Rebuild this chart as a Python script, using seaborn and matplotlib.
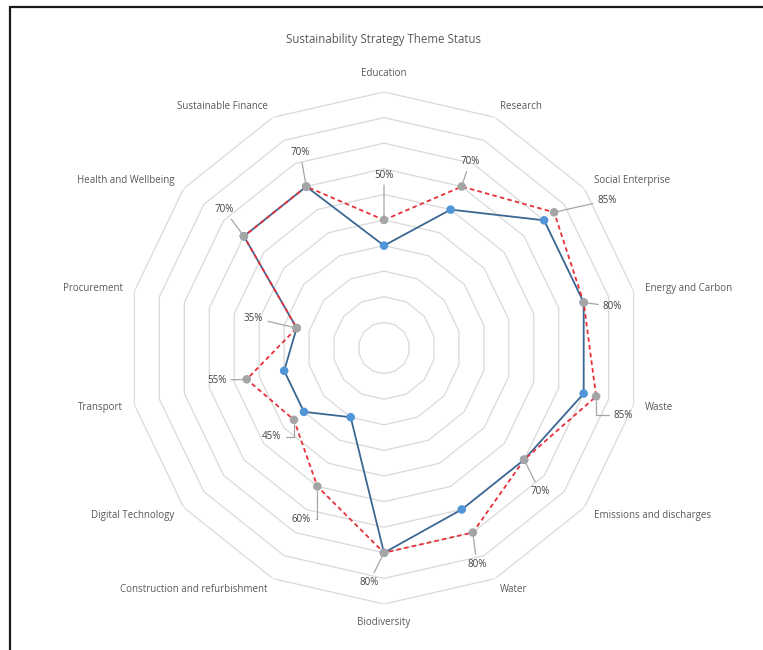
import numpy as np
import pandas as pd
import matplotlib
matplotlib.use("Agg")
import matplotlib.pyplot as plt
import seaborn as sns
from matplotlib.lines import Line2D

# ---------------- data ----------------
categories = ["Education", "Research", "Social Enterprise", "Energy and Carbon", "Waste",
              "Emissions and discharges", "Water", "Biodiversity",
              "Construction and refurbishment", "Digital Technology", "Transport",
              "Procurement", "Health and Wellbeing", "Sustainable Finance"]
current = [40, 60, 80, 80, 80, 70, 70, 80, 30, 40, 40, 35, 70, 70]
target = [50, 70, 85, 80, 85, 70, 80, 80, 60, 45, 55, 35, 70, 70]
title = "Sustainability Strategy Theme Status"
ring_levels = [10, 20, 30, 40, 50, 60, 70, 80, 90, 100]

# label offsets (pixels) and leader shapes for target data labels – layout only
label_offsets = [(0, 45), (8, 25), (53, 12), (29, -4), (27, -19), (16, -32), (4, -32),
                 (-15, -30), (-16, -33), (-22, -17), (-30, -1), (-43, 10), (-20, 27), (-6, 34)]
elbow = "angle,angleA=0,angleB=90,rad=0"
leader_styles = ["arc3", "arc3", "arc3", "arc3", elbow, "arc3", "arc3",
                 "arc3", elbow, elbow, "arc3", "arc3", "arc3", "arc3"]

# ---------------- figure ----------------
sns.set_theme(style="white")
plt.rcParams['font.family'] = ['Open Sans', 'DejaVu Sans']

W, H = 763, 650
fig = plt.figure(figsize=(W / 100, H / 100), dpi=100)
fig.patch.set_facecolor("white")

cx, cy, R = 384, 348, 256
ax = fig.add_axes([(cx - R) / W, (H - cy - R) / H, 2 * R / W, 2 * R / H], projection="polar")
ax.set_theta_zero_location("N")
ax.set_theta_direction(-1)
ax.set_ylim(0, 100)
ax.grid(False)
ax.spines["polar"].set_visible(False)
ax.set_xticks([])
ax.set_yticks([])
ax.patch.set_alpha(0)

n = len(categories)
theta = np.arange(n) * 2 * np.pi / n
theta_c = np.append(theta, 2 * np.pi)

# polygon rings
for lvl in ring_levels:
    ax.plot(theta_c, [lvl] * (n + 1), color="#D9D9D9", lw=0.9, zorder=1)

df_cur = pd.DataFrame({"theta": theta_c, "value": current + current[:1]})
df_tgt = pd.DataFrame({"theta": theta_c, "value": target + target[:1]})

sns.lineplot(data=df_cur, x="theta", y="value", sort=False, ax=ax, color="#3B6792",
             lw=1.3, zorder=3, estimator=None)
sns.scatterplot(data=df_cur.iloc[:-1], x="theta", y="value", ax=ax, color="#4F95D8",
                s=38, edgecolor="none", zorder=4)
sns.lineplot(data=df_tgt, x="theta", y="value", sort=False, ax=ax, color="#E8303A",
             lw=1.3, linestyle=(0, (2.5, 1.8)), zorder=5, estimator=None)
sns.scatterplot(data=df_tgt.iloc[:-1], x="theta", y="value", ax=ax, color="#A5A5A5",
                s=38, edgecolor="none", zorder=6)
ax.set_xlabel("")
ax.set_ylabel("")

# data labels for target
for t, v, (dx, dy), cs in zip(theta, target, label_offsets, leader_styles):
    ax.annotate(f"{v}%", xy=(t, v), xytext=(dx, dy), textcoords="offset pixels",
                ha="center", va="center", fontsize=7, color="#404040", zorder=7,
                arrowprops=dict(arrowstyle="-", color="#A6A6A6", lw=0.9,
                                shrinkA=1, shrinkB=3, connectionstyle=cs))

# category labels
for t, name in zip(theta, categories):
    s, c = np.sin(t), np.cos(t)
    if abs(s) < 0.1:
        ha = "center"
        va = "bottom" if c > 0 else "top"
        pad = 13
    else:
        ha = "left" if s > 0 else "right"
        va = "center"
        pad = 12
    ax.annotate(name, xy=(t, 100), xytext=(pad * s, pad * c), textcoords="offset pixels",
                ha=ha, va=va, fontsize=7, color="#595959", annotation_clip=False)

fig.text(cx / W, 1 - 40 / H, title, ha="center", va="center", fontsize=8.3, color="#595959")

# partial frame (top and left edges visible)
fig.add_artist(Line2D([10 / W, 1], [1 - 7 / H, 1 - 7 / H], transform=fig.transFigure,
                      color="#1A1A1A", lw=1.6))
fig.add_artist(Line2D([10 / W, 10 / W], [1 - 7 / H, 0], transform=fig.transFigure,
                      color="#1A1A1A", lw=1.6))

fig.savefig("out.png", dpi=100, facecolor="white")
